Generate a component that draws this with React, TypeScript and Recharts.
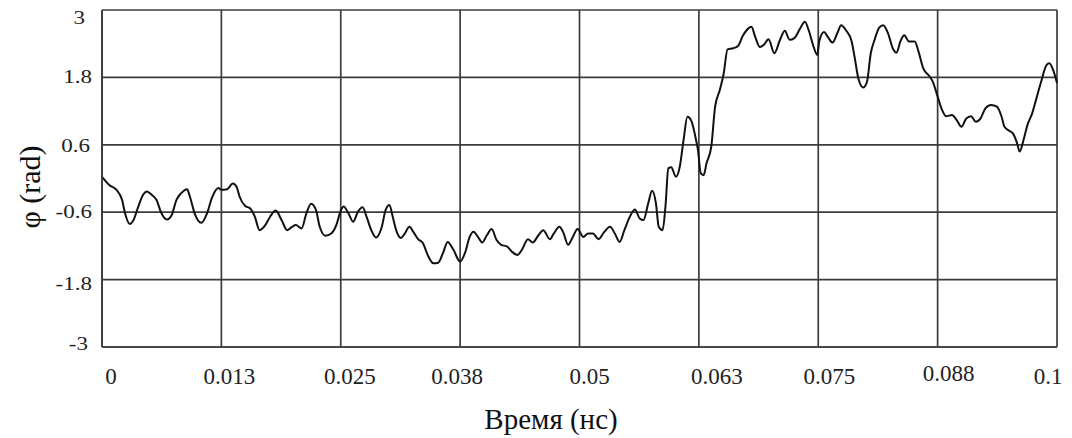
import React from 'react';
import { LineChart, Line, XAxis, YAxis, CartesianGrid, Label } from 'recharts';

const timeNs = [
  0, 0.0008, 0.0015, 0.0021, 0.0024, 0.0029, 0.0033, 0.0038, 0.0043, 0.0047,
  0.0052, 0.0057, 0.0062, 0.0068, 0.0073, 0.0078, 0.0083, 0.0089, 0.0092, 0.0097,
  0.0104, 0.0110, 0.0115, 0.0122, 0.0125, 0.0131, 0.0137, 0.0141, 0.0144, 0.0150,
  0.0155, 0.0160, 0.0165, 0.0171, 0.0176, 0.0182, 0.0188, 0.0194, 0.0199, 0.0203,
  0.0209, 0.0214, 0.0219, 0.0224, 0.0228, 0.0234, 0.0240, 0.0246, 0.0249, 0.0253,
  0.0258, 0.0263, 0.0268, 0.0273, 0.0277, 0.0282, 0.0287, 0.0293, 0.0297, 0.0301,
  0.0304, 0.0308, 0.0313, 0.0317, 0.0322, 0.0326, 0.0331, 0.0336, 0.0341, 0.0347,
  0.0352, 0.0357, 0.0362, 0.0368, 0.0375, 0.0380, 0.0385, 0.0389, 0.0394, 0.0398,
  0.0403, 0.0408, 0.0413, 0.0418, 0.0424, 0.0429, 0.0435, 0.0440, 0.0446, 0.0451,
  0.0457, 0.0462, 0.0469, 0.0473, 0.0479, 0.0483, 0.0488, 0.0493, 0.0498, 0.0504,
  0.0509, 0.0514, 0.0520, 0.0526, 0.0532, 0.0537, 0.0542, 0.0547, 0.0553, 0.0558,
  0.0563, 0.0567, 0.0572, 0.0576, 0.0580, 0.0583, 0.0587, 0.0590, 0.0593, 0.0596,
  0.0601, 0.0605, 0.0609, 0.0613, 0.0617, 0.0622, 0.0624, 0.0627, 0.0630, 0.0633,
  0.0638, 0.0642, 0.0647, 0.0651, 0.0655, 0.0661, 0.0666, 0.0671, 0.0675, 0.0680,
  0.0684, 0.0689, 0.0693, 0.0698, 0.0704, 0.0710, 0.0715, 0.0720, 0.0725, 0.0731,
  0.0736, 0.0740, 0.0745, 0.0749, 0.0751, 0.0756, 0.0760, 0.0765, 0.0770, 0.0774,
  0.0779, 0.0785, 0.0788, 0.0792, 0.0797, 0.0801, 0.0805, 0.0809, 0.0814, 0.0818,
  0.0823, 0.0828, 0.0832, 0.0836, 0.0840, 0.0845, 0.0851, 0.0855, 0.0860, 0.0866,
  0.0870, 0.0875, 0.0879, 0.0884, 0.0890, 0.0895, 0.0900, 0.0905, 0.0910, 0.0915,
  0.0920, 0.0925, 0.0931, 0.0937, 0.0942, 0.0945, 0.0950, 0.0954, 0.0958, 0.0961,
  0.0965, 0.0969, 0.0974, 0.0978, 0.0983, 0.0989, 0.0992, 0.0996, 0.1000,
];

const phaseRad = [
  0.03, -0.12, -0.20, -0.38, -0.61, -0.81, -0.74, -0.50, -0.29, -0.23,
  -0.29, -0.38, -0.61, -0.73, -0.65, -0.38, -0.26, -0.19, -0.32, -0.62,
  -0.79, -0.62, -0.35, -0.17, -0.20, -0.19, -0.09, -0.15, -0.32, -0.49,
  -0.53, -0.68, -0.92, -0.83, -0.68, -0.57, -0.74, -0.92, -0.86, -0.83,
  -0.89, -0.62, -0.45, -0.56, -0.86, -1.02, -0.98, -0.80, -0.62, -0.50,
  -0.62, -0.77, -0.59, -0.51, -0.68, -0.92, -1.05, -0.86, -0.56, -0.47,
  -0.65, -0.92, -1.06, -0.98, -0.86, -0.95, -1.08, -1.15, -1.36, -1.51,
  -1.50, -1.33, -1.13, -1.27, -1.48, -1.33, -1.04, -0.95, -1.05, -1.14,
  -1.01, -0.90, -1.09, -1.18, -1.21, -1.30, -1.36, -1.26, -1.08, -1.14,
  -1.01, -0.92, -1.08, -0.98, -0.86, -0.96, -1.18, -1.04, -0.90, -1.04,
  -0.98, -0.98, -1.08, -0.95, -0.86, -0.98, -1.13, -0.92, -0.67, -0.55,
  -0.71, -0.74, -0.44, -0.22, -0.44, -0.86, -0.92, -0.50, 0.18, 0.20,
  0.03, 0.21, 0.69, 1.10, 1.03, 0.69, 0.51, 0.09, 0.06, 0.27,
  0.57, 1.28, 1.58, 1.87, 2.30, 2.32, 2.36, 2.54, 2.64, 2.70,
  2.52, 2.34, 2.38, 2.48, 2.23, 2.47, 2.63, 2.47, 2.50, 2.67,
  2.79, 2.64, 2.35, 2.20, 2.44, 2.61, 2.52, 2.42, 2.59, 2.73,
  2.64, 2.44, 2.17, 1.78, 1.62, 1.72, 2.23, 2.47, 2.69, 2.73,
  2.59, 2.32, 2.24, 2.44, 2.55, 2.44, 2.44, 2.26, 1.96, 1.83,
  1.72, 1.46, 1.25, 1.11, 1.13, 1.04, 0.92, 1.07, 1.11, 1.01,
  1.07, 1.25, 1.31, 1.28, 1.10, 0.92, 0.85, 0.80, 0.64, 0.48,
  0.69, 0.95, 1.16, 1.40, 1.70, 2.02, 2.05, 1.93, 1.70,
];

const xTicks = [0, 0.0125, 0.025, 0.0375, 0.05, 0.0625, 0.075, 0.0875, 0.1];
const xTickLabels = ['0', '0.013', '0.025', '0.038', '0.05', '0.063', '0.075', '0.088', '0.1'];
const yTicks = [-3, -1.8, -0.6, 0.6, 1.8, 3];
const yTickLabels = ['-3', '-1.8', '-0.6', '0.6', '1.8', '3'];
const xTitle = 'Время (нс)';
const yTitle = 'φ (rad)';

// label placement tweaks (style only)
const xTickDx = [9, 8, 9, -3, 10, 18, 11, 11, -9];
const xTickDy = [0, 0, 0, 0, 0, 0, 0, -3, 0];
const yTickRight = [88, 92, 92, 90, 92, 85];
const yTickDy = [-3, 4, 0, 1, 0, 8];

const FONT = '"Liberation Serif", "Times New Roman", "DejaVu Serif", serif';
const GRID = '#3c3c3c';

const data = timeNs.map((t, i) => ({ t, phi: phaseRad[i] }));

const XTick = (props: any) => {
  const { x, y, index } = props;
  const i = index ?? xTicks.indexOf(props.payload?.value);
  return (
    <text
      x={x + (xTickDx[i] || 0)}
      y={y + 36.5 + (xTickDy[i] || 0)}
      textAnchor="middle"
      style={{ fontFamily: FONT, fontSize: 23 }}
      fill="#222"
    >
      {xTickLabels[i]}
    </text>
  );
};

const YTick = (props: any) => {
  const { y, index } = props;
  const i = index ?? yTicks.indexOf(props.payload?.value);
  return (
    <text
      transform={`translate(${yTickRight[i]},${y + 6 + (yTickDy[i] || 0)}) scale(1.28,1)`}
      textAnchor="end"
      style={{ fontFamily: FONT, fontSize: 18 }}
      fill="#222"
    >
      {yTickLabels[i]}
    </text>
  );
};

export default function App() {
  return (
    <div style={{ width: 1072, height: 438, background: '#fff', fontFamily: FONT }}>
      <style>{`body{margin:0;overflow:hidden;background:#fff}`}</style>
      <LineChart
        width={1072}
        height={438}
        data={data}
        margin={{ top: 10, right: 15, left: 0, bottom: 0 }}
        style={{ fontFamily: FONT }}
      >
        <CartesianGrid stroke={GRID} strokeWidth={1.7} />
        <XAxis
          dataKey="t"
          type="number"
          domain={[0, 0.1]}
          ticks={xTicks}
          interval={0}
          height={91}
          tickLine={false}
          tickSize={0}
          tickMargin={0}
          axisLine={{ stroke: GRID, strokeWidth: 1.7 }}
          tick={(p: any) => <XTick {...p} />}
        >
          <Label
            content={() => (
              <text
                x={551}
                y={429}
                textAnchor="middle"
                style={{ fontFamily: FONT, fontSize: 29 }}
                fill="#111"
              >
                {xTitle}
              </text>
            )}
          />
        </XAxis>
        <YAxis
          type="number"
          domain={[-3, 3]}
          ticks={yTicks}
          interval={0}
          width={102}
          tickLine={false}
          tickSize={0}
          tickMargin={0}
          axisLine={{ stroke: GRID, strokeWidth: 1.7 }}
          tick={(p: any) => <YTick {...p} />}
        >
          <Label
            content={() => (
              <text
                transform="translate(29,187) rotate(-90)"
                textAnchor="middle"
                dominantBaseline="central"
                style={{ fontFamily: FONT, fontSize: 30 }}
                fill="#111"
              >
                {yTitle}
              </text>
            )}
          />
        </YAxis>
        <Line
          type="monotone"
          dataKey="phi"
          stroke="#111"
          strokeWidth={2}
          dot={false}
          isAnimationActive={false}
        />
      </LineChart>
    </div>
  );
}
